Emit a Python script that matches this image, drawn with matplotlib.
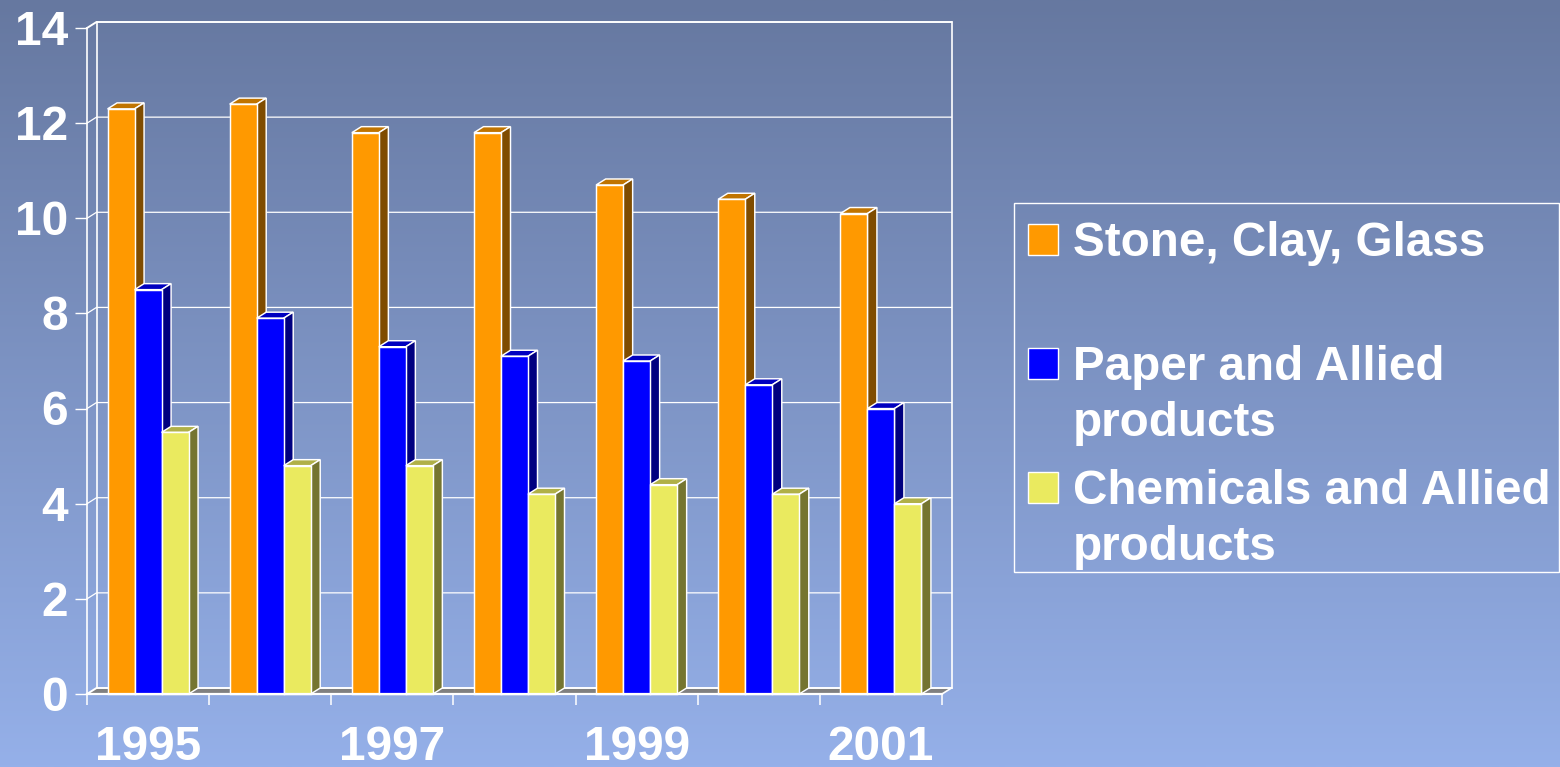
#!/usr/bin/env python3
"""3D-look clustered bars on a blue gradient slide."""
import numpy as np
import matplotlib
matplotlib.use("Agg")
import matplotlib.pyplot as plt
from matplotlib.patches import Rectangle
from matplotlib.transforms import ScaledTranslation

W, H = 1560, 767
YEARS = ["1995", "", "1997", "", "1999", "", "2001"]
STONE = [12.3, 12.4, 11.8, 11.8, 10.7, 10.4, 10.1]
PAPER = [8.5, 7.9, 7.3, 7.1, 7.0, 6.5, 6.0]
CHEM = [5.5, 4.8, 4.8, 4.2, 4.4, 4.2, 4.0]
YTICKS = [0, 2, 4, 6, 8, 10, 12, 14]
NAMES = ["Stone, Clay, Glass", "Paper and Allied\nproducts", "Chemicals and Allied\nproducts"]

# front, top, side
COLS = [("#FF9900", "#C07400", "#7F4C00"),
        ("#0000FF", "#0000C0", "#000080"),
        ("#EAEA5F", "#B0B047", "#757530")]
EDGE = "white"
FS_Y = 34.5; FS_X = 34.5; FS_LEG = 34.3
LW = 1.05

plt.rcParams["font.family"] = ["Liberation Sans", "DejaVu Sans"]
fig = plt.figure(figsize=(W/100, H/100), dpi=100)

def fx(x): return x/W
def fy(y): return 1-y/H

# background gradient
bg = fig.add_axes([0, 0, 1, 1], zorder=0)
bg.axis("off")
t = np.linspace(0, 1, 256)[:, None]
top = np.array([0x66, 0x78, 0xA0])/255; bot = np.array([0x95, 0xB0, 0xE9])/255
bg.imshow((top+(bot-top)*t[..., None]), aspect="auto", extent=[0, 1, 0, 1])

# plot axes = front plane of the 3D box
L, R, T, B = 87, 942, 28, 694
ax = fig.add_axes([fx(L), fy(B), (R-L)/W, (B-T)/H], zorder=1)
ax.patch.set_visible(False)
ax.set_xlim(0, 7); ax.set_ylim(0, 14)
for s in ax.spines.values(): s.set_visible(False)
dx = 9.5/((R-L)/7); dy = 6/((B-T)/14)   # depth offset in data units

# floor, then back wall and grid
ax.fill([0, 7, 7+dx, dx], [0, 0, dy, dy], fc="#808080", ec="none", zorder=1, clip_on=False)
for v in YTICKS:
    lw = 1.4 if v in (0, 14) else 0.9
    ax.plot([0, dx, 7+dx], [v, v+dy, v+dy], color=EDGE, lw=lw, zorder=1.5, clip_on=False)
ax.plot([dx, dx], [dy, 14+dy], color=EDGE, lw=1.2, zorder=1.5, clip_on=False)
ax.plot([7+dx, 7+dx], [dy, 14+dy], color=EDGE, lw=1.2, zorder=1.5, clip_on=False)
ax.plot([7, 7+dx], [0, dy], color=EDGE, lw=1.2, zorder=1.5, clip_on=False)

# bars, left to right so nearer faces overlap the depth faces
bw = 27/((R-L)/7)
z = 2.0
for i in range(len(YEARS)):
    for j, vals in enumerate([STONE, PAPER, CHEM]):
        v = vals[i]
        x0 = i+0.5+(j-1.5)*bw
        x1 = x0+bw
        c = COLS[j]
        ax.fill([x0, x1, x1+dx, x0+dx], [v, v, v+dy, v+dy], fc=c[1], ec=EDGE, lw=LW, zorder=z, clip_on=False)
        ax.fill([x1, x1+dx, x1+dx, x1], [0, dy, v+dy, v], fc=c[2], ec=EDGE, lw=LW, zorder=z, clip_on=False)
        ax.bar(x0, v, width=bw, align="edge", color=c[0], edgecolor=EDGE, lw=LW, zorder=z+0.1, clip_on=False)
        z += 0.2

# front plane lines
ax.plot([0, 7], [0, 0], color=EDGE, lw=1.6, zorder=z, clip_on=False)
ax.plot([0, 0], [0, 14], color=EDGE, lw=1.2, zorder=z, clip_on=False)

ax.set_yticks(YTICKS)
ax.set_xticks(range(8))
ax.set_xticklabels([""]*8)
ax.tick_params(axis="y", length=8.6, width=1.0, color=EDGE, pad=5, labelcolor=EDGE, labelsize=FS_Y)
ax.tick_params(axis="x", length=8, width=1.1, color=EDGE)
shift = ScaledTranslation(0, 0.5/72, fig.dpi_scale_trans)
for lab in ax.get_yticklabels():
    lab.set_fontweight("bold")
    lab.set_transform(lab.get_transform()+shift)
for i, y in enumerate(YEARS):
    if y:
        ax.text(i+0.5, -(747-B)/(B-T), y, transform=ax.get_xaxis_transform(), ha="center", va="center",
                color=EDGE, fontsize=FS_X, fontweight="bold", clip_on=False)

# legend box
lg = fig.add_axes([0, 0, 1, 1], zorder=2)
lg.axis("off"); lg.set_xlim(0, W); lg.set_ylim(H, 0)
lg.add_patch(Rectangle((1013.5, 203), 545.5, 369, fc="none", ec=EDGE, lw=1.0))
SW_Y = [224, 348, 472]
TX_Y = [243, 367, 491]
for j, name in enumerate(NAMES):
    lg.add_patch(Rectangle((1028, SW_Y[j]), 30, 31, fc=COLS[j][0], ec=EDGE, lw=1.0))
    for k, line in enumerate(name.split("\n")):
        lg.text(1073, TX_Y[j]+k*57, line, color=EDGE, fontsize=FS_LEG, fontweight="bold", va="center", ha="left")

fig.savefig("out.png", dpi=100)
